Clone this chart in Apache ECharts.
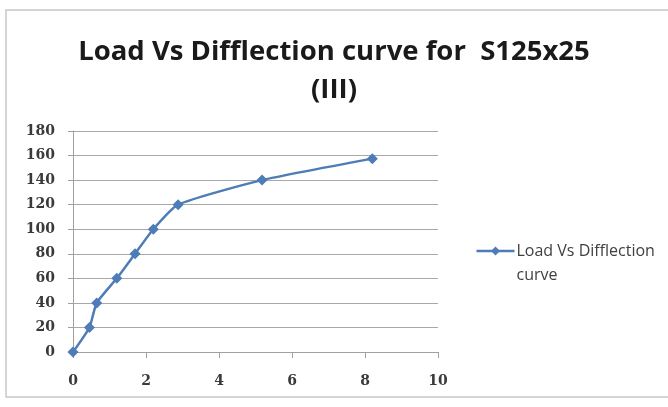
<!DOCTYPE html>
<html>
<head>
<meta charset="utf-8">
<script src="https://cdn.jsdelivr.net/npm/echarts@6/dist/echarts.min.js"></script>
<style>
  html, body { margin: 0; padding: 0; background: #ffffff; }
  #chart { width: 668px; height: 407px; }
</style>
</head>
<body>
<div id="chart"></div>
<script>
// Deflection (x) and load (y) readings
const deflection = [0, 0.45, 0.65, 1.2, 1.7, 2.2, 2.88, 5.18, 8.2];
const load = [0, 20, 40, 60, 80, 100, 120, 140, 157.5];
const seriesName = 'Load Vs Difflection curve';
const titleText = 'Load Vs Difflection curve for  S125x25\n(III)';

const points = deflection.map((d, i) => [d, load[i]]);

const chart = echarts.init(document.getElementById('chart'));
chart.setOption({
  animation: false,
  backgroundColor: '#ffffff',
  title: {
    text: titleText,
    left: 'center',
    top: 28,
    textStyle: {
      fontFamily: 'Open Sans',
      fontWeight: 'bold',
      fontSize: 27.5,
      lineHeight: 38,
      color: '#1a1a1a'
    }
  },
  graphic: [{
    type: 'rect',
    shape: { x: 6, y: 10, width: 680, height: 387 },
    style: { fill: 'none', stroke: '#c8c8c8', lineWidth: 1.5 },
    z: -1
  }, {
    type: 'group',
    left: 474,
    top: 239,
    children: [
      { type: 'line', shape: { x1: 0, y1: 10, x2: 38, y2: 10 }, style: { stroke: '#4d7cb6', lineWidth: 2.5 } },
      { type: 'polygon', shape: { points: [[19, 5.5], [23.5, 10], [19, 14.5], [14.5, 10]] }, style: { fill: '#4d7cb6' } },
      { type: 'text', x: 40, y: -2, style: { text: 'Load Vs Difflection\ncurve', fontFamily: 'Open Sans', fontSize: 16, lineHeight: 24, fill: '#404040' } }
    ]
  }],
  grid: { left: 73, right: 230, top: 131, bottom: 55 },
  xAxis: {
    type: 'value',
    min: 0, max: 10, interval: 2,
    axisLine: { show: true, lineStyle: { color: '#a0a0a0', width: 1 } },
    axisTick: { show: true, length: 6, lineStyle: { color: '#a0a0a0' } },
    splitLine: { show: false },
    axisLabel: { margin: 22, fontFamily: 'DejaVu Serif', fontSize: 14, fontWeight: 'bold', color: '#3a3a3a' }
  },
  yAxis: {
    type: 'value',
    min: 0, max: 180, interval: 20,
    axisLine: { show: true, lineStyle: { color: '#a0a0a0', width: 1 } },
    axisTick: { show: true, length: 5, lineStyle: { color: '#a0a0a0' } },
    splitLine: { show: true, lineStyle: { color: '#a8a8a8', width: 1 } },
    axisLabel: { margin: 18, fontFamily: 'DejaVu Serif', fontSize: 14, fontWeight: 'bold', color: '#3a3a3a' }
  },
  series: [{
    name: seriesName,
    type: 'line',
    data: points,
    smooth: 0.18,
    symbol: 'diamond',
    symbolSize: 11,
    lineStyle: { color: '#4d7cb6', width: 2.5 },
    itemStyle: { color: '#4d7cb6' }
  }]
});
</script>
</body>
</html>
